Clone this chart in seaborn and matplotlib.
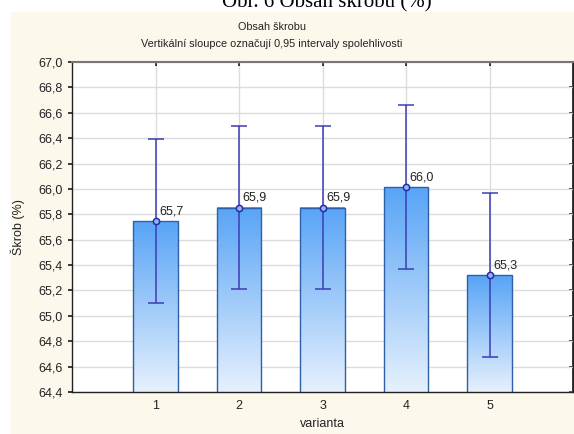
import numpy as np
import pandas as pd
import matplotlib
matplotlib.use("Agg")
import matplotlib.pyplot as plt
from matplotlib.colors import LinearSegmentedColormap
from matplotlib.patches import Rectangle
import seaborn as sns

# ---- data ----
varianta = [1, 2, 3, 4, 5]
means = [65.745, 65.853, 65.853, 66.013, 65.320]
ci = [0.645, 0.645, 0.645, 0.647, 0.648]
labels = ["65,7", "65,9", "65,9", "66,0", "65,3"]
yticks = [64.4, 64.6, 64.8, 65.0, 65.2, 65.4, 65.6, 65.8, 66.0, 66.2, 66.4, 66.6, 66.8, 67.0]
ytick_labels = ["64,4", "64,6", "64,8", "65,0", "65,2", "65,4", "65,6", "65,8",
                "66,0", "66,2", "66,4", "66,6", "66,8", "67,0"]

sns.set_theme(style="white")
plt.rcParams['font.family'] = ['Liberation Sans', 'DejaVu Sans']

W, H = 574, 434
fig = plt.figure(figsize=(W / 100, H / 100), dpi=100)
fig.patch.set_facecolor("white")

# beige panel
fig.patches.append(Rectangle((11 / W, 0), 1 - 11 / W, 1 - 12 / H, transform=fig.transFigure,
                             facecolor="#fdf8ec", edgecolor="none", zorder=-5))

# cropped caption on top (cut off in the reference too)
fig.text(327 / W, 1 - 7 / H, "Obr. 6 Obsah škrobu (%)", ha="center", va="baseline",
         fontsize=15, family="Liberation Serif", color="black")

ax = fig.add_axes([72 / W, 1 - 392 / H, (573 - 72) / W, (392 - 62) / H])
ax.set_zorder(2)
ax.set_facecolor("white")

df = pd.DataFrame({"varianta": varianta, "mean": means})
sns.barplot(data=df, x="varianta", y="mean", native_scale=True, width=0.53,
            color="#5aa8f8", edgecolor="#2f5fa6", linewidth=1.0, errorbar=None, ax=ax,
            zorder=2)

ax.set_xlim(0, 6)
ax.set_ylim(64.4, 67.0)

# gradient fill for bars
cmap = LinearSegmentedColormap.from_list("g", ["#e6f1fd", "#58a4f6"])
grad = np.linspace(0, 1, 256).reshape(-1, 1)
for p in list(ax.patches):
    x0, y0 = p.get_x(), 64.4
    x1, y1 = p.get_x() + p.get_width(), p.get_y() + p.get_height()
    p.set_facecolor("none")
    ax.imshow(grad, extent=[x0, x1, y0, y1], origin="lower", aspect="auto",
              cmap=cmap, zorder=1.9, interpolation="bilinear")
ax.set_xlim(0, 6)
ax.set_ylim(64.4, 67.0)

# error bars
ax.errorbar(varianta, means, yerr=ci, fmt="o", color="#3a3ab8", ecolor="#3c3cb6",
            elinewidth=1.1, capsize=6, capthick=1.1, markersize=4.5,
            markerfacecolor="#8fb8f0", markeredgecolor="#2a2aa8", markeredgewidth=1.1, zorder=4)

for x, m, lab in zip(varianta, means, labels):
    ax.annotate(lab, (x, m), xytext=(2.5, 3), textcoords="offset points",
                fontsize=9, color="#222222", ha="left", va="bottom", zorder=5)

ax.set_yticks(yticks)
ax.set_yticklabels(ytick_labels)
ax.set_xticks(varianta)
ax.set_xticklabels([str(v) for v in varianta])
ax.grid(True, color="#dcdcdc", linewidth=1.0, zorder=0)
ax.set_axisbelow(True)
ax.tick_params(axis="y", labelsize=9, colors="#222222", labelcolor="#222222", length=3,
               direction="out", left=True, right=False, pad=4)
ax.tick_params(axis="x", labelsize=9, colors="#222222", labelcolor="#222222", length=3,
               direction="in", bottom=True, top=True, pad=6)

sec = ax.secondary_yaxis("right")
sec.set_yticks(yticks)
sec.set_yticklabels([])
sec.tick_params(axis="y", direction="in", length=3, colors="#222222")
sec.spines["right"].set_color("#222222")

ax.set_xlabel("varianta", fontsize=9, color="#222222", labelpad=4)
ax.set_ylabel("Škrob (%)", fontsize=9, color="#222222", labelpad=9)

for side in ["left", "bottom", "right"]:
    ax.spines[side].set_color("#222222")
    ax.spines[side].set_linewidth(1.0)
ax.spines["top"].set_color("#777777")
ax.spines["top"].set_linewidth(1.5)

fig.text(272 / W, 1 - 27 / H, "Obsah škrobu", ha="center", va="center", fontsize=7.8, color="#222222")
fig.text(272 / W, 1 - 44 / H, "Vertikální sloupce označují 0,95 intervaly spolehlivosti",
         ha="center", va="center", fontsize=7.8, color="#222222")

fig.savefig("out.png", dpi=100, facecolor=fig.get_facecolor())
